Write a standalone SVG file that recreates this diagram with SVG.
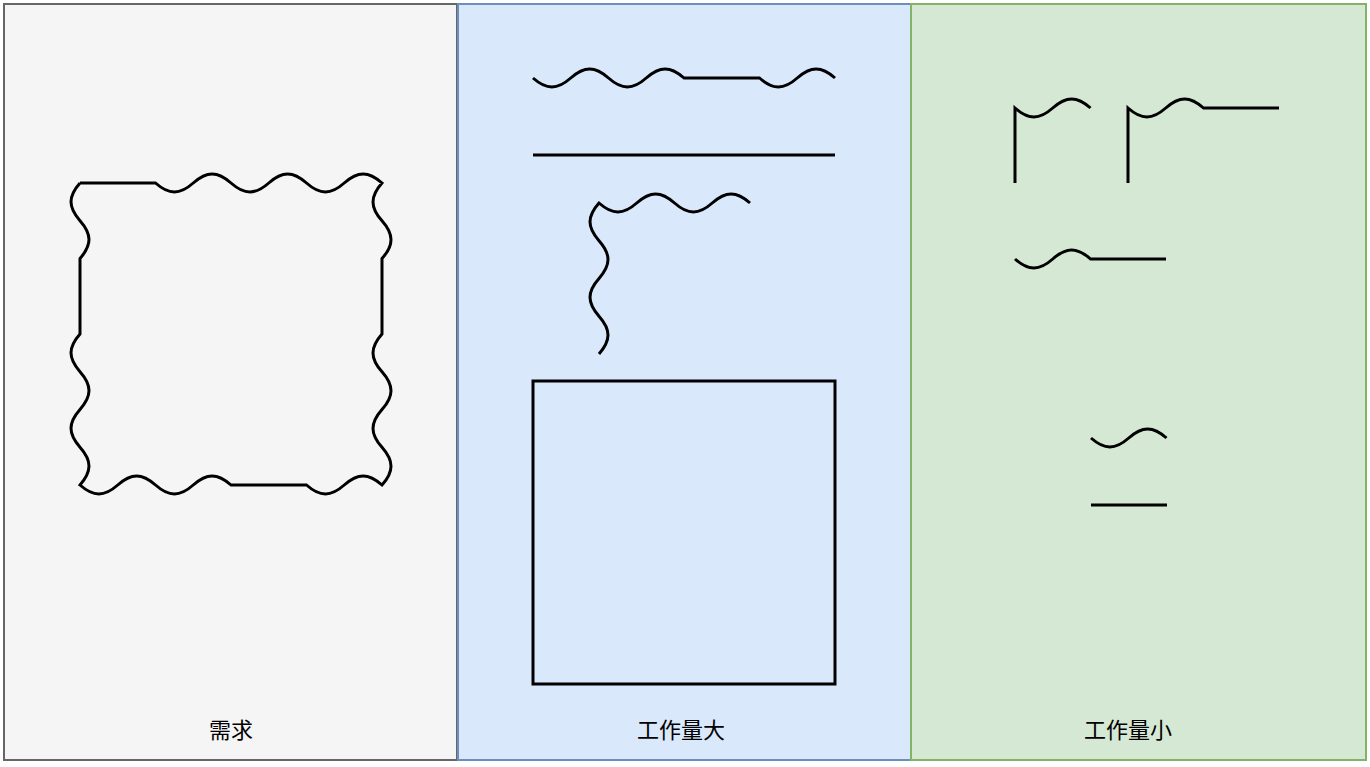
<svg xmlns="http://www.w3.org/2000/svg" width="1370" height="767" viewBox="0 0 1370 767">
<style>
.panel{stroke-width:2}
.s{fill:none;stroke:#000;stroke-width:3;stroke-linejoin:miter}
.lbl{font-family:"Noto Sans CJK SC","Noto Sans",sans-serif;font-size:22px;fill:#000;text-anchor:middle}
</style>
<rect width="1370" height="767" fill="#ffffff"/>
<g id="panel-need">
<rect class="panel" x="4" y="4" width="453" height="756" fill="#f5f5f5" stroke="#666666"/>
<text class="lbl" x="231" y="738">需求</text>
</g>
<g id="panel-big">
<rect class="panel" x="458" y="4" width="453" height="756" fill="#dae8fc" stroke="#6c8ebf"/>
<text class="lbl" x="681" y="738">工作量大</text>
</g>
<g id="panel-small">
<rect class="panel" x="911" y="4" width="455" height="756" fill="#d5e8d4" stroke="#82b366"/>
<text class="lbl" x="1128" y="738">工作量小</text>
</g>
<g id="need-shape">
<path class="s" d="M80 183 h75.5
c13.6 12 24.2 12 37.75 0 c13.6 -12 24.2 -12 37.75 0
c13.6 12 24.2 12 37.75 0 c13.6 -12 24.2 -12 37.75 0
c13.6 12 24.2 12 37.75 0 c13.6 -12 24.2 -12 37.75 0
c-12 13.6 -12 24.2 0 37.75 c12 13.6 12 24.2 0 37.75
v75.5
c-12 13.6 -12 24.2 0 37.75 c12 13.6 12 24.2 0 37.75
c-12 13.6 -12 24.2 0 37.75 c12 13.6 12 24.2 0 37.75
c-13.6 -12 -24.2 -12 -37.75 0 c-13.6 12 -24.2 12 -37.75 0
h-75.5
c-13.6 -12 -24.2 -12 -37.75 0 c-13.6 12 -24.2 12 -37.75 0
c-13.6 -12 -24.2 -12 -37.75 0 c-13.6 12 -24.2 12 -37.75 0
c12 -13.6 12 -24.2 0 -37.75 c-12 -13.6 -12 -24.2 0 -37.75
c12 -13.6 12 -24.2 0 -37.75 c-12 -13.6 -12 -24.2 0 -37.75
v-75.5
c12 -13.6 12 -24.2 0 -37.75 c-12 -13.6 -12 -24.2 0 -37.75"/>
</g>
<g id="big-top-wave">
<path class="s" d="M533 78
c13.6 12 24.2 12 37.75 0 c13.6 -12 24.2 -12 37.75 0
c13.6 12 24.2 12 37.75 0 c13.6 -12 24.2 -12 37.75 0
h75.5
c13.6 12 24.2 12 37.75 0 c13.6 -12 24.2 -12 37.75 0"/>
</g>
<g id="big-top-line">
<path class="s" d="M533 155 H835"/>
</g>
<g id="big-corner">
<path class="s" d="M599 354
c12 -13.6 12 -24.2 0 -37.75 c-12 -13.6 -12 -24.2 0 -37.75
c12 -13.6 12 -24.2 0 -37.75 c-12 -13.6 -12 -24.2 0 -37.75
c13.6 12 24.2 12 37.75 0 c13.6 -12 24.2 -12 37.75 0
c13.6 12 24.2 12 37.75 0 c13.6 -12 24.2 -12 37.75 0"/>
</g>
<g id="big-square">
<rect class="s" x="533" y="381" width="302" height="303"/>
</g>
<g id="small-corner-1">
<path class="s" d="M1015 183 V108 c13.6 12 24.2 12 37.75 0 c13.6 -12 24.2 -12 37.75 0"/>
</g>
<g id="small-corner-2">
<path class="s" d="M1128 183 V108 c13.6 12 24.2 12 37.75 0 c13.6 -12 24.2 -12 37.75 0 h75.5"/>
</g>
<g id="small-line-1">
<path class="s" d="M1015 259 c13.6 12 24.2 12 37.75 0 c13.6 -12 24.2 -12 37.75 0 h75.5"/>
</g>
<g id="small-wave">
<path class="s" d="M1091 438 c13.6 12 24.2 12 37.75 0 c13.6 -12 24.2 -12 37.75 0"/>
</g>
<g id="small-line-2">
<path class="s" d="M1091 505 H1167"/>
</g>
<g id="connectors"></g>
</svg>
